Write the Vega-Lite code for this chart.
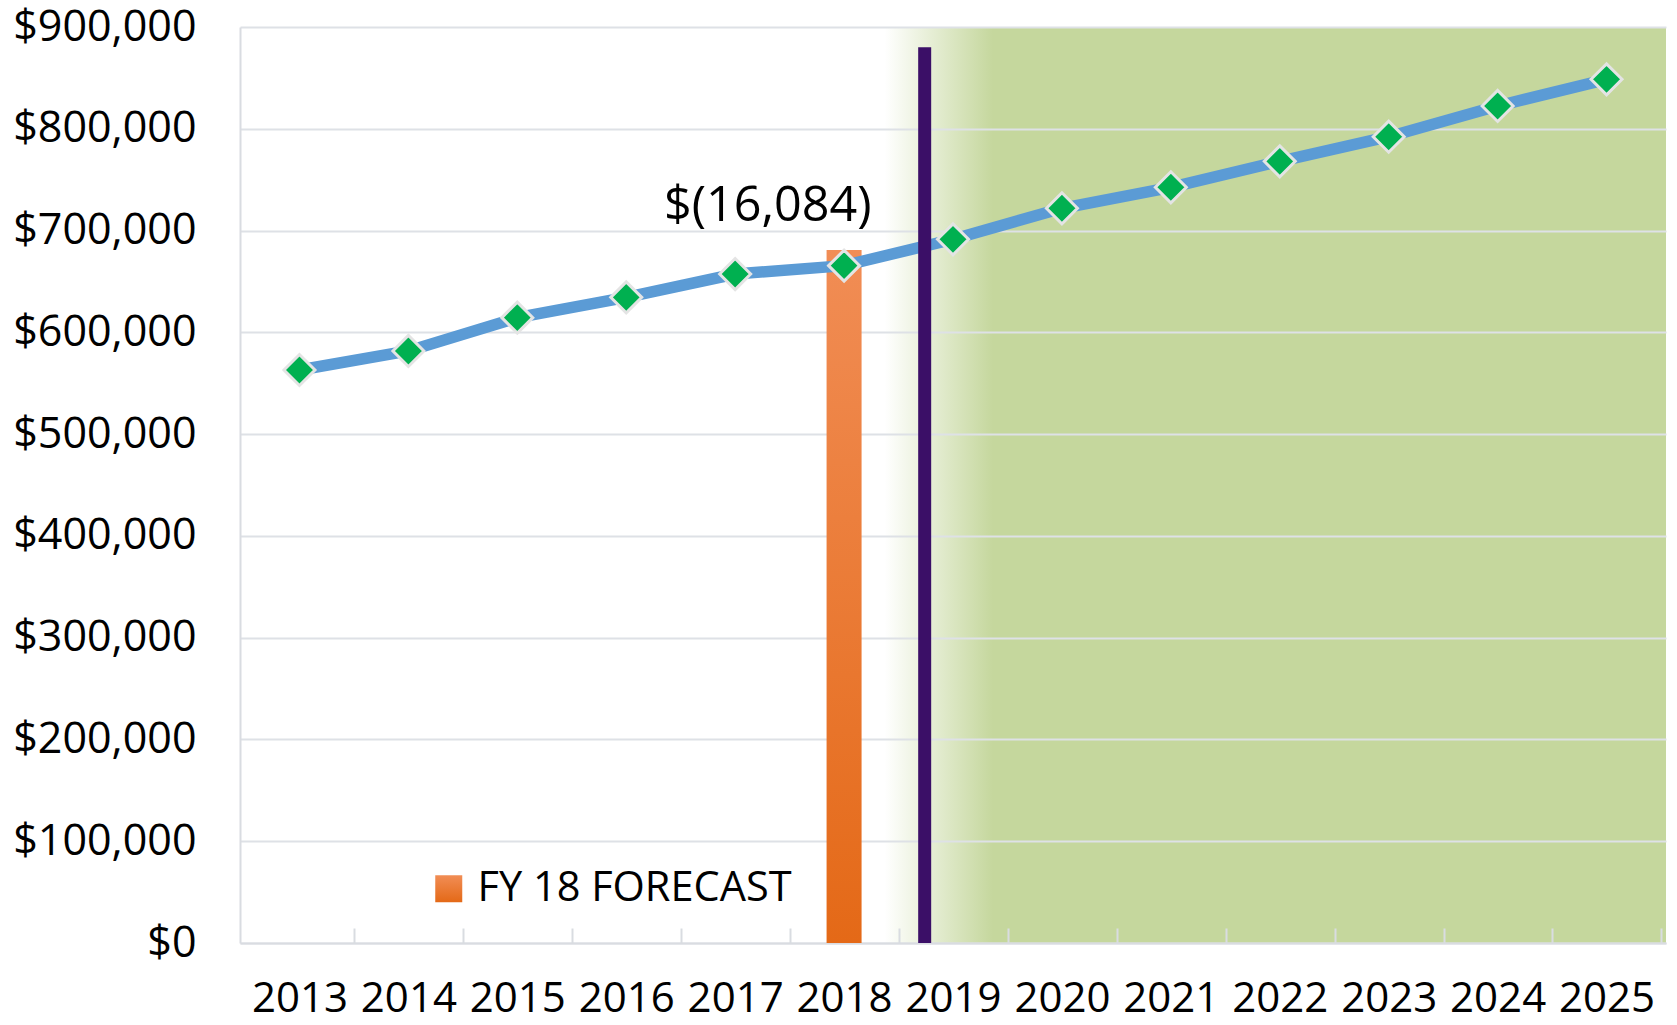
{
  "$schema": "https://vega.github.io/schema/vega-lite/v6.json",
  "width": 1426,
  "height": 916,
  "autosize": "none",
  "padding": {"left": 240, "top": 27, "right": 11, "bottom": 82},
  "background": "#FFFFFF",
  "config": {
    "font": "Open Sans",
    "view": {
      "stroke": null,
      "fill": {
        "gradient": "linear",
        "x1": 0, "y1": 0, "x2": 1, "y2": 0,
        "stops": [
          {"offset": 0, "color": "#FFFFFF"},
          {"offset": 0.452, "color": "#FFFFFF"},
          {"offset": 0.528, "color": "#C5D79D"},
          {"offset": 1, "color": "#C5D79D"}
        ]
      }
    },
    "axis": {"labelFont": "Open Sans", "labelColor": "#000000", "titleFont": "Open Sans", "labelLimit": 0}
  },
  "datasets": {
    "trend": [
      {"year": 2013, "value": 563000},
      {"year": 2014, "value": 581700},
      {"year": 2015, "value": 614400},
      {"year": 2016, "value": 634400},
      {"year": 2017, "value": 657300},
      {"year": 2018, "value": 665500},
      {"year": 2019, "value": 691400},
      {"year": 2020, "value": 721900},
      {"year": 2021, "value": 742500},
      {"year": 2022, "value": 768000},
      {"year": 2023, "value": 792200},
      {"year": 2024, "value": 822400},
      {"year": 2025, "value": 848600}
    ],
    "forecast": [
      {"year": 2018, "value": 681000, "series": "FY 18 FORECAST"}
    ],
    "divider": [
      {"year": 2018.74, "low": 0, "top": 880000}
    ],
    "note": [
      {"year": 2017.3, "value": 724000, "label": "$(16,084)"}
    ]
  },
  "layer": [
    {
      "data": {"name": "forecast"},
      "mark": {
        "type": "bar",
        "size": 35,
        "fill": {
          "gradient": "linear",
          "x1": 0, "y1": 0, "x2": 0, "y2": 1,
          "stops": [
            {"offset": 0, "color": "#F18D55"},
            {"offset": 1, "color": "#E46917"}
          ]
        }
      },
      "encoding": {
        "x": {
          "field": "year",
          "type": "quantitative",
          "scale": {"domain": [2012.5, 2025.5], "nice": false, "zero": false},
          "axis": {
            "values": [2013, 2014, 2015, 2016, 2017, 2018, 2019, 2020, 2021, 2022, 2023, 2024, 2025],
            "format": "d",
            "title": null,
            "grid": false,
            "labelFontSize": 42,
            "labelPadding": 50,
            "tickOffset": 54.85,
            "labelOffset": -54.85,
            "tickSize": -15,
            "tickColor": "#D9DCE1",
            "tickWidth": 2,
            "domainColor": "#D9DCE1",
            "domainWidth": 2,
            "labelFlush": false,
            "labelLimit": 0
          }
        },
        "y": {
          "field": "value",
          "type": "quantitative",
          "scale": {"domain": [0, 900000], "nice": false},
          "axis": {
            "values": [0, 100000, 200000, 300000, 400000, 500000, 600000, 700000, 800000, 900000],
            "format": "$,.0f",
            "title": null,
            "ticks": false,
            "labelFontSize": 43,
            "labelPadding": 44,
            "labelLimit": 0,
            "grid": true,
            "gridColor": "#DEE1E6",
            "gridWidth": 2,
            "domainColor": "#D9DCE1",
            "domainWidth": 2
          }
        },
        "opacity": {
          "field": "series",
          "type": "nominal",
          "scale": {"range": [1]},
          "legend": {
            "title": null,
            "orient": "none",
            "legendX": 188,
            "legendY": 841,
            "padding": 0,
            "symbolType": "square",
            "symbolSize": 729,
            "symbolStrokeWidth": 0,
            "symbolOffset": 0,
            "labelFontSize": 41.5,
            "labelFont": "Open Sans",
            "labelColor": "#000000",
            "labelOffset": 8,
            "labelLimit": 0
          }
        }
      }
    },
    {
      "data": {"name": "trend"},
      "mark": {"type": "line", "color": "#5B9BD5", "strokeWidth": 11.5},
      "encoding": {
        "x": {"field": "year", "type": "quantitative"},
        "y": {"field": "value", "type": "quantitative"}
      }
    },
    {
      "data": {"name": "divider"},
      "mark": {"type": "rule", "color": "#3B0F67", "strokeWidth": 13},
      "encoding": {
        "x": {"field": "year", "type": "quantitative"},
        "y": {"field": "low", "type": "quantitative"},
        "y2": {"field": "top"}
      }
    },
    {
      "data": {"name": "trend"},
      "mark": {"type": "point", "shape": "diamond", "filled": true, "fill": "#00B050", "stroke": "#E4E4E4", "strokeWidth": 3, "size": 960, "opacity": 1},
      "encoding": {
        "x": {"field": "year", "type": "quantitative"},
        "y": {"field": "value", "type": "quantitative"}
      }
    },
    {
      "data": {"name": "note"},
      "mark": {"type": "text", "fontSize": 48.5, "font": "Open Sans", "color": "#000000", "align": "center", "baseline": "middle"},
      "encoding": {
        "x": {"field": "year", "type": "quantitative"},
        "y": {"field": "value", "type": "quantitative"},
        "text": {"field": "label", "type": "nominal"}
      }
    }
  ]
}
